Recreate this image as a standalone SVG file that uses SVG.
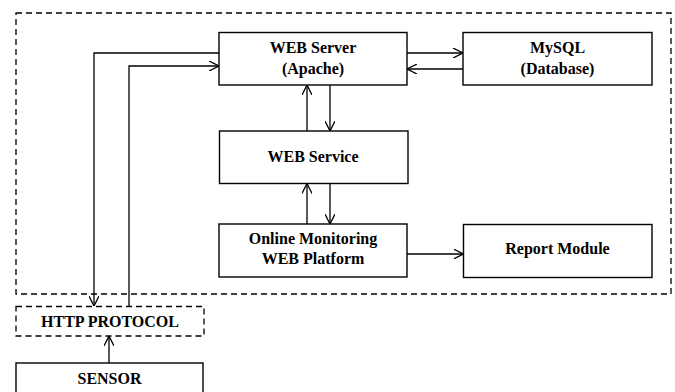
<svg xmlns="http://www.w3.org/2000/svg" width="675" height="392" viewBox="0 0 675 392">
<defs>
<marker id="ah" viewBox="0 0 10 10" refX="10" refY="5" markerWidth="10" markerHeight="10" markerUnits="userSpaceOnUse" orient="auto">
<path d="M0,0 L10,5 L0,10" fill="none" stroke="#000" stroke-width="1.3"/>
</marker>
<style>
.box{fill:#fff;stroke:#000;stroke-width:1.4}
.dash{fill:none;stroke:#000;stroke-width:1.3;stroke-dasharray:6,4}
.lbl{font-weight:bold;font-size:16px;text-anchor:middle;fill:#000}
.con{fill:none;stroke:#000;stroke-width:1.3;marker-end:url(#ah)}
</style>
</defs>
<rect width="675" height="392" fill="#fff"/>
<g font-family="'Liberation Serif', 'DejaVu Serif', serif">
<g id="system-boundary"><rect class="dash" x="16" y="13" width="655" height="281"/></g>
<g id="web-server"><rect class="box" x="219" y="32.5" width="188" height="52.5"/><text class="lbl" x="313" y="53">WEB Server</text><text class="lbl" x="313" y="74">(Apache)</text></g>
<g id="mysql"><rect class="box" x="463" y="32.5" width="189" height="52.5"/><text class="lbl" x="557.5" y="53">MySQL</text><text class="lbl" x="557.5" y="74">(Database)</text></g>
<g id="web-service"><rect class="box" x="219.5" y="131" width="188.5" height="52.5"/><text class="lbl" x="313" y="162">WEB Service</text></g>
<g id="online-platform"><rect class="box" x="219" y="224" width="188" height="53"/><text class="lbl" x="313" y="244">Online Monitoring</text><text class="lbl" x="313" y="264">WEB Platform</text></g>
<g id="report-module"><rect class="box" x="463.5" y="224.5" width="188.5" height="53"/><text class="lbl" x="557.5" y="254">Report Module</text></g>
<g id="http-protocol"><rect class="dash" x="16" y="306.5" width="188" height="29.5"/><text class="lbl" x="110" y="327">HTTP PROTOCOL</text></g>
<g id="sensor"><rect class="box" x="16" y="363" width="187" height="40"/><text class="lbl" x="109.5" y="384">SENSOR</text></g>
</g>
<g id="connectors">
<path class="con" d="M219,53 H94 V306"/>
<path class="con" d="M129,306.5 V66 H219"/>
<path class="con" d="M407,53 H463"/>
<path class="con" d="M463,69 H407"/>
<path class="con" d="M307,131 V85"/>
<path class="con" d="M330,85 V131"/>
<path class="con" d="M307,224 V183.5"/>
<path class="con" d="M330,183.5 V224"/>
<path class="con" d="M407,254 H463.5"/>
<path class="con" d="M109,363 V336"/>
</g>
</svg>
